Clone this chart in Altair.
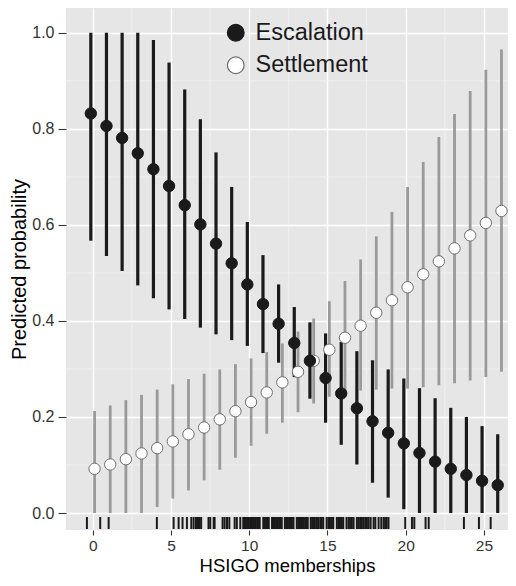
import altair as alt
import pandas as pd

# ---- data ----
memberships = list(range(27))

esc_mean = [0.832, 0.806, 0.781, 0.749, 0.716, 0.681, 0.641, 0.601, 0.561, 0.520,
            0.476, 0.435, 0.394, 0.354, 0.317, 0.281, 0.249, 0.218, 0.191, 0.167,
            0.145, 0.125, 0.107, 0.092, 0.079, 0.067, 0.058]
esc_hi = [1.0, 1.0, 1.0, 1.0, 0.985, 0.938, 0.882, 0.820, 0.751, 0.679,
          0.606, 0.537, 0.476, 0.429, 0.397, 0.374, 0.356, 0.337, 0.318, 0.299,
          0.280, 0.260, 0.239, 0.219, 0.200, 0.181, 0.164]
esc_lo = [0.567, 0.535, 0.504, 0.474, 0.447, 0.424, 0.404, 0.386, 0.372, 0.360,
          0.348, 0.333, 0.313, 0.283, 0.238, 0.188, 0.142, 0.101, 0.063, 0.032,
          0.008, 0.0, 0.0, 0.0, 0.0, 0.0, 0.0]

set_mean = [0.092, 0.101, 0.112, 0.124, 0.135, 0.149, 0.164, 0.178, 0.195, 0.212,
            0.231, 0.251, 0.272, 0.294, 0.317, 0.340, 0.365, 0.390, 0.417, 0.443,
            0.470, 0.497, 0.524, 0.551, 0.578, 0.604, 0.629]
set_hi = [0.2125, 0.224, 0.235, 0.246, 0.257, 0.268, 0.279, 0.290, 0.299, 0.310,
          0.322, 0.335, 0.353, 0.378, 0.405, 0.441, 0.483, 0.528, 0.576, 0.627,
          0.679, 0.731, 0.783, 0.831, 0.879, 0.923, 0.965]
set_lo = [0.0, 0.0, 0.0, 0.0, 0.0125, 0.030, 0.047, 0.068, 0.090, 0.115,
          0.140, 0.165, 0.188, 0.210, 0.228, 0.242, 0.250, 0.255, 0.257, 0.259,
          0.259, 0.262, 0.266, 0.270, 0.276, 0.283, 0.294]

rug_values = [-0.37, 0.48, 1.02, 4.10, 5.17, 5.49, 5.74, 6.02, 6.30, 6.45, 6.60, 6.73,
              6.83, 6.93, 7.40, 7.51, 7.73, 7.79, 8.30, 8.43, 8.58, 8.73, 9.07, 9.21,
              9.43, 9.62, 9.70, 9.79, 9.88, 9.97, 10.06, 10.15, 10.24, 10.33, 10.42,
              10.51, 10.60, 10.67, 10.90, 10.99, 11.08, 11.17, 11.25, 11.46, 11.55,
              11.64, 11.73, 11.82, 11.91, 12.00, 12.08, 12.28, 12.37, 12.46, 12.55,
              12.64, 12.73, 12.83, 13.04, 13.13, 13.22, 13.31, 13.40, 13.49, 13.58,
              13.67, 13.74, 13.93, 14.02, 14.11, 14.20, 14.33, 14.42, 14.54, 14.63,
              14.73, 14.95, 15.07, 15.16, 15.28, 15.37, 15.60, 15.70, 15.80, 15.92,
              16.01, 16.22, 16.35, 16.45, 16.56, 16.67, 16.88, 16.98, 17.09, 17.20,
              17.31, 17.42, 17.52, 17.63, 17.76, 17.95, 18.06, 18.27, 18.44, 18.59,
              18.69, 18.78, 18.90, 19.97, 20.40, 20.55, 21.27, 21.47, 23.72, 24.68,
              25.43]

outcomes = ["Escalation", "Settlement"]
x_ticks = [0, 5, 10, 15, 20, 25]
y_ticks = [0.0, 0.2, 0.4, 0.6, 0.8, 1.0]
minor_x = [2.5, 7.5, 12.5, 17.5, 22.5]
minor_y = [0.1, 0.3, 0.5, 0.7, 0.9]

# ---- tables ----
rows = []
for i, m in enumerate(memberships):
    rows.append({"x": m, "outcome": "Escalation", "mean": esc_mean[i],
                 "lo": esc_lo[i], "hi": esc_hi[i], "ord": 2})
    rows.append({"x": m, "outcome": "Settlement", "mean": set_mean[i],
                 "lo": set_lo[i], "hi": set_hi[i], "ord": 1})
df = pd.DataFrame(rows)
rug_df = pd.DataFrame({"r": rug_values})
mx_df = pd.DataFrame({"mx": minor_x})
my_df = pd.DataFrame({"my": minor_y})

FONT = "Liberation Sans"

xscale = alt.Scale(domain=[-1.706, 26.537], nice=False, zero=False)
yscale = alt.Scale(domain=[-0.0354, 1.0516], nice=False, zero=False)

xaxis = alt.Axis(values=x_ticks, format="d", title="HSIGO memberships",
                 labelFontSize=15.5, labelFont=FONT, labelColor="#333333",
                 titleFontSize=18.5, titleFont=FONT, titleFontWeight="normal",
                 titleColor="#000000", titlePadding=3, labelPadding=3,
                 tickSize=5, tickColor="#333333", tickWidth=1.1,
                 domain=False, grid=True, gridColor="#ffffff", gridWidth=1.4,
                 labelFlush=False)
yaxis = alt.Axis(values=y_ticks, format=".1f", title="Predicted probability",
                 labelFontSize=16, labelFont=FONT, labelColor="#333333",
                 titleFontSize=20, titleFont=FONT, titleFontWeight="normal",
                 titleColor="#000000", titlePadding=2, labelPadding=4,
                 tickSize=8, tickColor="#333333", tickWidth=1.1,
                 domain=False, grid=True, gridColor="#ffffff", gridWidth=1.4,
                 labelFlush=False)

base = alt.Chart(df).transform_calculate(
    xd="datum.x + (datum.outcome == 'Escalation' ? -0.12 : 0.12)"
)

minor_v = alt.Chart(mx_df).mark_rule(color="#f3f3f3", strokeWidth=0.8).encode(
    x=alt.X("mx:Q", scale=xscale, axis=xaxis)
)
minor_h = alt.Chart(my_df).mark_rule(color="#f3f3f3", strokeWidth=0.8).encode(
    y=alt.Y("my:Q", scale=yscale, axis=yaxis)
)

set_bars = base.transform_filter("datum.outcome == 'Settlement'").mark_rule(
    color="#9a9a9a", strokeWidth=2.8).encode(
    x=alt.X("xd:Q", scale=xscale, axis=xaxis),
    y=alt.Y("lo:Q", scale=yscale, axis=yaxis),
    y2="hi:Q",
)
esc_bars = base.transform_filter("datum.outcome == 'Escalation'").mark_rule(
    color="#1a1a1a", strokeWidth=3.2).encode(
    x=alt.X("xd:Q", scale=xscale, axis=xaxis),
    y=alt.Y("lo:Q", scale=yscale, axis=yaxis),
    y2="hi:Q",
)

leg = alt.Legend(title=None, orient="none", legendX=158, legendY=13,
                 labelFontSize=23.5, labelFont=FONT, labelColor="#1a1a1a",
                 symbolSize=280, symbolStrokeWidth=1.2, rowPadding=7.5,
                 labelOffset=8, symbolType="circle")

points = base.mark_point(filled=True, shape="circle", size=130, opacity=1,
                         strokeWidth=1).encode(
    x=alt.X("xd:Q", scale=xscale, axis=xaxis),
    y=alt.Y("mean:Q", scale=yscale, axis=yaxis),
    fill=alt.Fill("outcome:N", scale=alt.Scale(domain=outcomes,
                                                range=["#1a1a1a", "#ffffff"]),
                  legend=leg),
    stroke=alt.Stroke("outcome:N", scale=alt.Scale(domain=outcomes,
                                                    range=["#1a1a1a", "#6e6e6e"]),
                      legend=leg),
    order=alt.Order("ord:Q"),
)

rug = alt.Chart(rug_df).mark_rule(color="#1a1a1a", strokeWidth=2).encode(
    x=alt.X("r:Q", scale=xscale, axis=xaxis),
    y=alt.value(509),
    y2=alt.value(521),
)

chart = alt.layer(minor_v, minor_h, set_bars, esc_bars, points, rug).properties(
    width=442, height=522,
    autosize=alt.AutoSizeParams(type="none"),
    padding={"left": 58, "top": 0, "right": 0, "bottom": 49},
).configure_view(
    fill="#e6e6e6", stroke=None
)

chart.save("out.html", embed_options={"renderer": "svg", "actions": False})
